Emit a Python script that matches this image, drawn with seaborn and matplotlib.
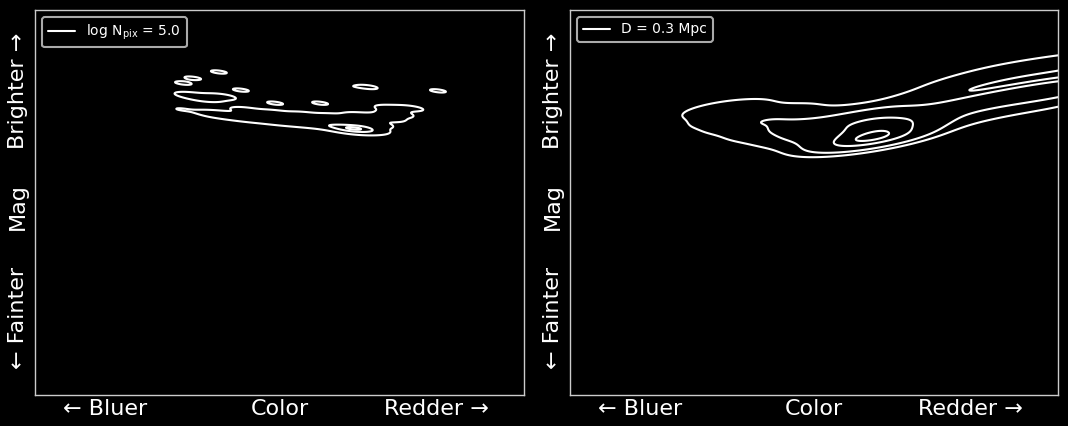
import matplotlib
matplotlib.use("Agg")
import matplotlib.pyplot as plt
from matplotlib.lines import Line2D
import seaborn as sns

# colour-magnitude positions (0..1 axes units, up = brighter)
# left panel: log N_pix = 5.0 selection
left_color = [0.368, 0.399, 0.430, 0.460, 0.491, 0.522, 0.553, 0.583, 0.613, 0.644,
              0.665, 0.685, 0.715, 0.736,
              0.430, 0.491, 0.553, 0.613, 0.665, 0.726, 0.767,
              0.317, 0.348, 0.380,
              0.303, 0.323, 0.376, 0.421, 0.491, 0.620, 0.680, 0.824, 0.583, 0.299]
left_mag = [0.730, 0.725, 0.720, 0.717, 0.712, 0.709, 0.706, 0.703, 0.699, 0.692,
            0.692, 0.704, 0.720, 0.730,
            0.740, 0.732, 0.727, 0.722, 0.725, 0.745, 0.745,
            0.779, 0.770, 0.775,
            0.810, 0.823, 0.839, 0.792, 0.758, 0.803, 0.800, 0.790, 0.758, 0.742]
left_weight = [0.9, 0.9, 1.0, 1.0, 1.0, 1.1, 1.2, 1.4, 2.0, 6.0,
               6.0, 1.8, 1.2, 0.9,
               0.6, 0.7, 0.7, 0.8, 0.8, 0.6, 0.5,
               0.6, 0.7, 0.6,
               0.35, 0.35, 0.35, 0.35, 0.35, 0.25, 0.4, 0.35, 0.35, 0.3]

# right panel: D = 0.3 Mpc selection
right_color = [0.290, 0.307, 0.307, 0.348, 0.348, 0.389, 0.389, 0.430, 0.430, 0.471,
               0.471, 0.512, 0.512, 0.553, 0.553,
               0.348, 0.450, 0.550,
               0.605, 0.631, 0.615, 0.645, 0.594, 0.635, 0.605, 0.645, 0.625,
               0.676, 0.717, 0.758, 0.799, 0.840, 0.881, 0.922, 0.963, 1.004, 1.045,
               0.717, 0.799, 0.881, 0.963, 1.045,
               0.758, 0.840, 0.922, 1.004]
right_mag = [0.750, 0.740, 0.714, 0.727, 0.701, 0.714, 0.688, 0.714, 0.683, 0.704,
             0.675, 0.694, 0.668, 0.688, 0.662,
             0.748, 0.742, 0.735,
             0.665, 0.665, 0.688, 0.690, 0.714, 0.719, 0.708, 0.714, 0.735,
             0.701, 0.719, 0.738, 0.752, 0.762, 0.772, 0.781, 0.790, 0.796, 0.802,
             0.775, 0.812, 0.840, 0.856, 0.870,
             0.701, 0.727, 0.748, 0.762]
right_weight = [0.6, 0.9, 0.7, 1.0, 0.8, 1.1, 0.9, 1.4, 1.2, 1.7,
                1.4, 2.0, 1.7, 2.5, 2.0,
                0.8, 0.9, 1.0,
                11.0, 12.0, 6.0, 6.0, 3.0, 3.5, 3.0, 3.0, 2.0,
                3.0, 2.5, 2.5, 2.5, 2.5, 2.7, 3.0, 3.2, 3.4, 3.4,
                1.4, 1.5, 1.6, 1.6, 1.6,
                1.0, 1.0, 1.0, 1.0]

left_label = r"$\log\,\mathrm{N}_{\rm pix}$ = 5.0"
right_label = "D = 0.3 Mpc"

x_ticks = [0.143, 0.5, 0.82]
x_ticklabels = ["\u2190 Bluer", "Color", "Redder \u2192"]
y_ticks = [0.2, 0.49, 0.79]
y_ticklabels = ["\u2190 Fainter", "Mag", "Brighter \u2192"]

sns.set_theme(style="dark", rc={
    "axes.facecolor": "black",
    "figure.facecolor": "black",
    "axes.edgecolor": "#cccccc",
    "axes.linewidth": 1.0,
    "text.color": "white",
    "xtick.color": "white",
    "ytick.color": "white",
    "axes.grid": False,
})
plt.rcParams["font.family"] = ["DejaVu Sans"]

fig = plt.figure(figsize=(10.68, 4.26), dpi=100)
ax1 = fig.add_axes([35 / 1068, 1 - 395 / 426, 489 / 1068, 385 / 426])
ax2 = fig.add_axes([570 / 1068, 1 - 395 / 426, 488 / 1068, 385 / 426])

sns.kdeplot(x=left_color, y=left_mag, weights=left_weight, levels=[0.12, 0.75, 0.95],
            bw_adjust=0.3, gridsize=300, color="white", linewidths=1.5, ax=ax1)
sns.kdeplot(x=right_color, y=right_mag, weights=right_weight, levels=[0.04, 0.25, 0.72, 0.95],
            bw_adjust=0.6, gridsize=300, color="white", linewidths=1.5, ax=ax2)

for ax, lab in [(ax1, left_label), (ax2, right_label)]:
    ax.set_xlim(0, 1)
    ax.set_ylim(0, 1)
    ax.set_xlabel("")
    ax.set_ylabel("")
    ax.set_xticks(x_ticks)
    ax.set_xticklabels(x_ticklabels, fontsize=16)
    ax.set_yticks(y_ticks)
    ax.set_yticklabels(y_ticklabels, fontsize=16, rotation=90, va="center")
    ax.tick_params(axis="x", length=0, pad=3)
    ax.tick_params(axis="y", length=0, pad=5)
    handle = Line2D([0], [0], color="white", lw=1.5)
    leg = ax.legend(handles=[handle], labels=[lab], loc="upper left", fontsize=10,
                    facecolor="black", edgecolor="#aaaaaa", framealpha=1)
    leg.get_frame().set_linewidth(1.5)
    for t in leg.get_texts():
        t.set_color("white")

fig.savefig("out.png", dpi=100, facecolor="black")
